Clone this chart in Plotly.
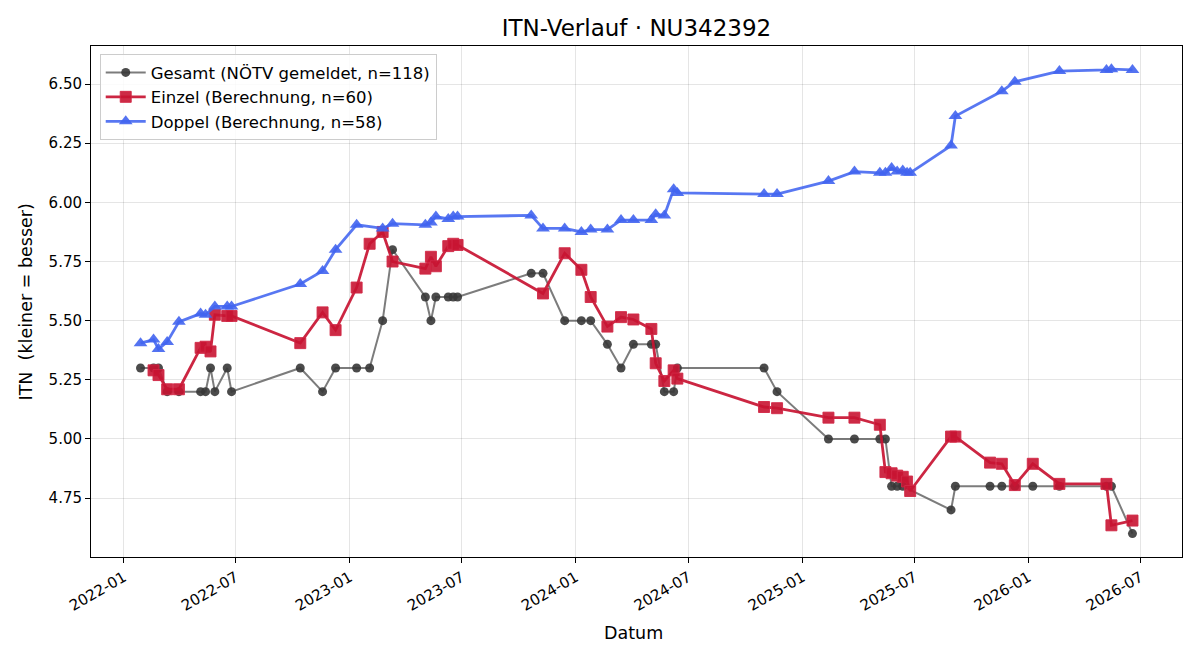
import plotly.graph_objects as go

# ---------------- data ----------------
gesamt_dates = [
    "2022-01-28", "2022-02-18", "2022-02-26", "2022-03-12", "2022-03-31",
    "2022-05-05", "2022-05-13", "2022-05-21", "2022-05-28", "2022-06-17",
    "2022-06-24", "2022-10-13", "2022-11-18", "2022-12-09", "2023-01-12",
    "2023-02-02", "2023-02-23", "2023-03-11", "2023-05-03", "2023-05-12",
    "2023-05-20", "2023-06-09", "2023-06-17", "2023-06-24", "2023-10-21",
    "2023-11-09", "2023-12-14", "2024-01-10", "2024-01-25", "2024-02-21",
    "2024-03-14", "2024-04-03", "2024-05-02", "2024-05-09", "2024-05-23",
    "2024-06-07", "2024-06-13", "2024-10-31", "2024-11-21", "2025-02-12",
    "2025-03-26", "2025-05-06", "2025-05-15", "2025-05-25", "2025-06-03",
    "2025-06-12", "2025-08-29", "2025-09-05", "2025-10-31", "2025-11-19",
    "2025-12-10", "2026-01-08", "2026-02-20", "2026-05-07", "2026-05-15",
    "2026-06-18",
]
gesamt_values = [
    5.30, 5.30, 5.30, 5.20, 5.20,
    5.20, 5.20, 5.30, 5.20, 5.30,
    5.20, 5.30, 5.20, 5.30, 5.30,
    5.30, 5.50, 5.80, 5.60, 5.50,
    5.60, 5.60, 5.60, 5.60, 5.70,
    5.70, 5.50, 5.50, 5.50, 5.40,
    5.30, 5.40, 5.40, 5.40, 5.20,
    5.20, 5.30, 5.30, 5.20, 5.00,
    5.00, 5.00, 5.00, 4.80, 4.80,
    4.80, 4.70, 4.80, 4.80, 4.80,
    4.80, 4.80, 4.80, 4.80, 4.80,
    4.60,
]

einzel_dates = [
    "2022-02-18", "2022-02-26", "2022-03-12", "2022-03-31", "2022-05-05",
    "2022-05-13", "2022-05-21", "2022-05-28", "2022-06-17", "2022-06-24",
    "2022-10-13", "2022-11-18", "2022-12-09", "2023-01-12", "2023-02-02",
    "2023-02-23", "2023-03-11", "2023-05-03", "2023-05-12", "2023-05-20",
    "2023-06-09", "2023-06-17", "2023-06-24", "2023-11-09", "2023-12-14",
    "2024-01-10", "2024-01-25", "2024-02-21", "2024-03-14", "2024-04-03",
    "2024-05-02", "2024-05-09", "2024-05-23", "2024-06-07", "2024-06-13",
    "2024-10-31", "2024-11-21", "2025-02-12", "2025-03-26", "2025-05-06",
    "2025-05-15", "2025-05-25", "2025-06-03", "2025-06-12", "2025-06-19",
    "2025-06-24", "2025-08-29", "2025-09-05", "2025-10-31", "2025-11-19",
    "2025-12-10", "2026-01-08", "2026-02-20", "2026-05-07", "2026-05-15",
    "2026-06-18",
]
einzel_values = [
    5.29, 5.27, 5.21, 5.21, 5.385,
    5.39, 5.37, 5.525, 5.52, 5.52,
    5.405, 5.535, 5.46, 5.64, 5.825,
    5.875, 5.75, 5.72, 5.77, 5.73,
    5.815, 5.825, 5.82, 5.615, 5.785,
    5.715, 5.60, 5.475, 5.515, 5.505,
    5.465, 5.32, 5.245, 5.29, 5.255,
    5.135, 5.13, 5.09, 5.09, 5.06,
    4.86, 4.855, 4.845, 4.84, 4.82,
    4.78, 5.01, 5.01, 4.90, 4.895,
    4.805, 4.895, 4.81, 4.81, 4.635,
    4.655,
]

doppel_dates = [
    "2022-01-28", "2022-02-18", "2022-02-26", "2022-03-12", "2022-03-31",
    "2022-05-05", "2022-05-13", "2022-05-28", "2022-06-17", "2022-06-24",
    "2022-10-13", "2022-11-18", "2022-12-09", "2023-01-12", "2023-02-23",
    "2023-03-11", "2023-05-03", "2023-05-12", "2023-05-20", "2023-06-09",
    "2023-06-17", "2023-06-24", "2023-10-21", "2023-11-09", "2023-12-14",
    "2024-01-10", "2024-01-25", "2024-02-21", "2024-03-14", "2024-04-03",
    "2024-05-02", "2024-05-09", "2024-05-23", "2024-06-07", "2024-06-13",
    "2024-10-31", "2024-11-21", "2025-02-12", "2025-03-26", "2025-05-06",
    "2025-05-15", "2025-05-25", "2025-06-03", "2025-06-12", "2025-06-19",
    "2025-06-24", "2025-08-29", "2025-09-05", "2025-11-19", "2025-12-10",
    "2026-02-20", "2026-05-07", "2026-05-15", "2026-06-18",
]
doppel_values = [
    5.405, 5.42, 5.38, 5.41, 5.495,
    5.53, 5.525, 5.56, 5.56, 5.56,
    5.655, 5.71, 5.80, 5.905, 5.89,
    5.91, 5.905, 5.915, 5.94, 5.93,
    5.94, 5.94, 5.945, 5.89, 5.89,
    5.875, 5.885, 5.885, 5.925, 5.925,
    5.925, 5.95, 5.945, 6.055, 6.04,
    6.035, 6.035, 6.09, 6.13, 6.125,
    6.125, 6.145, 6.13, 6.135, 6.125,
    6.125, 6.24, 6.365, 6.47, 6.51,
    6.555, 6.56, 6.563, 6.56,
]

x_tickvals = ["2022-01-01", "2022-07-01", "2023-01-01", "2023-07-01", "2024-01-01",
              "2024-07-01", "2025-01-01", "2025-07-01", "2026-01-01", "2026-07-01"]
x_ticktext = ["2022-01", "2022-07", "2023-01", "2023-07", "2024-01",
              "2024-07", "2025-01", "2025-07", "2026-01", "2026-07"]
y_tickvals = [4.75, 5.00, 5.25, 5.50, 5.75, 6.00, 6.25, 6.50]

# ---------------- figure ----------------
FONT = "DejaVu Sans"

fig = go.Figure()
fig.add_trace(go.Scatter(
    x=gesamt_dates, y=gesamt_values, mode="lines+markers",
    name="Gesamt (NÖTV gemeldet, n=118)",
    line=dict(color="rgba(80,80,80,0.75)", width=2),
    marker=dict(symbol="circle", size=9, color="rgba(55,55,55,0.9)",
                line=dict(width=0)),
))
fig.add_trace(go.Scatter(
    x=einzel_dates, y=einzel_values, mode="lines+markers",
    name="Einzel (Berechnung, n=60)",
    line=dict(color="rgba(200,20,50,0.92)", width=2.8),
    marker=dict(symbol="square", size=11, color="rgba(200,20,50,0.9)",
                line=dict(width=1, color="rgba(210,40,70,0.9)")),
))
fig.add_trace(go.Scatter(
    x=doppel_dates, y=doppel_values, mode="lines+markers",
    name="Doppel (Berechnung, n=58)",
    line=dict(color="rgba(65,100,240,0.88)", width=2.8),
    marker=dict(symbol="triangle-up", size=12, color="rgba(65,100,240,0.9)",
                line=dict(width=0)),
))

fig.update_layout(
    width=1200, height=660,
    margin=dict(l=91, r=18, t=46, b=103),
    paper_bgcolor="white", plot_bgcolor="white",
    font=dict(family=FONT, size=15, color="black"),
    title=dict(text="ITN-Verlauf · NU342392", x=0.5, xref="paper",
               xanchor="center", y=1 - 28 / 660, yref="container",
               yanchor="middle", font=dict(size=23, family=FONT)),
    showlegend=True,
    legend=dict(x=0.008, y=0.984, xanchor="left", yanchor="top",
                bgcolor="rgba(255,255,255,0.85)", bordercolor="#cccccc",
                borderwidth=1, font=dict(size=16.5, family=FONT),
                tracegroupgap=0, itemwidth=40),
    xaxis=dict(
        range=["2021-11-09", "2026-09-06"], type="date",
        tickvals=x_tickvals, ticktext=x_ticktext, tickangle=-30,
        ticks="outside", ticklen=5, tickcolor="black",
        showline=True, linecolor="black", linewidth=1, mirror=True,
        showgrid=True, gridcolor="rgba(0,0,0,0.1)", gridwidth=1,
        zeroline=False, tickfont=dict(size=15, family=FONT),
    ),
    yaxis=dict(
        range=[4.501, 6.661],
        tickvals=y_tickvals, tickformat=".2f",
        ticks="outside", ticklen=5, tickcolor="black",
        showline=True, linecolor="black", linewidth=1, mirror=True,
        showgrid=True, gridcolor="rgba(0,0,0,0.1)", gridwidth=1,
        zeroline=False, tickfont=dict(size=15, family=FONT),
    ),
    annotations=[
        dict(text="Datum", xref="paper", yref="paper", x=0.497, y=-0.1487,
             xanchor="center", yanchor="middle", showarrow=False,
             font=dict(size=17.5, family=FONT)),
        dict(text="ITN\u00a0 (kleiner = besser)", xref="paper", yref="paper",
             x=-0.0596, y=0.5, xanchor="center", yanchor="middle",
             textangle=-90, showarrow=False, font=dict(size=17.5, family=FONT)),
    ],
)

fig.write_html("out.html")
